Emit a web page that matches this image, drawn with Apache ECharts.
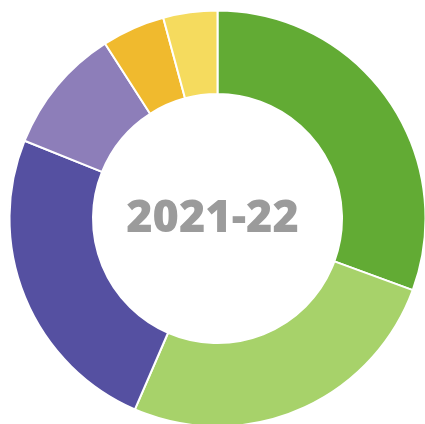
<!DOCTYPE html>
<html>
<head>
<meta charset="utf-8">
<script src="https://cdn.jsdelivr.net/npm/echarts@6/dist/echarts.min.js"></script>
<style>
  html, body { margin: 0; padding: 0; background: #fff; }
  #chart { width: 425px; height: 424px; }
</style>
</head>
<body>
<div id="chart"></div>
<script>
// share of each segment, clockwise from 12 o'clock
var segments = ['A', 'B', 'C', 'D', 'E', 'F'];
var shares = [30.6, 25.9, 24.6, 9.8, 4.9, 4.2];
var colours = ['#62AB34', '#A7D26A', '#5550A1', '#8D7EB9', '#F0BA2E', '#F5DB5E'];
var centreText = '2021-22';

var option = {
    animation: false,
    color: colours,
    graphic: [{
        type: 'text',
        left: 'center',
        top: 197,
        style: {
            text: centreText,
            fill: '#9B9B9B',
            font: '800 45px "Open Sans"'
        }
    }],
    series: [{
        type: 'pie',
        center: [217.5, 218.5],
        radius: [124.5, 208],
        startAngle: 90,
        clockwise: true,
        label: { show: false },
        labelLine: { show: false },
        itemStyle: {
            borderColor: '#fff',
            borderWidth: 2
        },
        data: segments.map(function (name, i) {
            return { name: name, value: shares[i] };
        })
    }]
};

var chart = echarts.init(document.getElementById('chart'));
chart.setOption(option);
</script>
</body>
</html>
